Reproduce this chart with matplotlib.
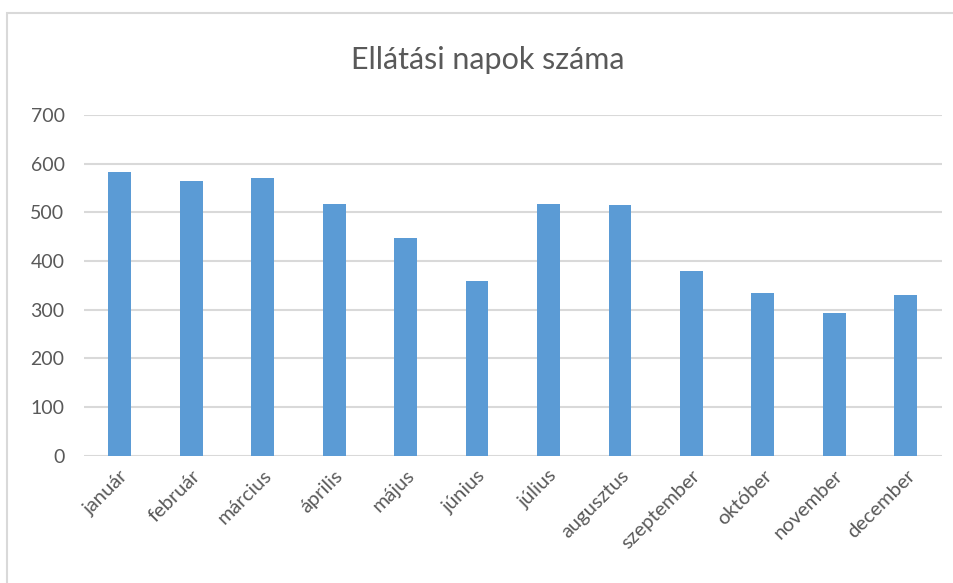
import matplotlib.pyplot as plt
from matplotlib.patches import Rectangle

months = ['január', 'február', 'március', 'április', 'május', 'június',
          'július', 'augusztus', 'szeptember', 'október', 'november', 'december']
days = [583, 565, 570, 518, 448, 359, 517, 515, 379, 335, 294, 331]
yticks = [0, 100, 200, 300, 400, 500, 600, 700]

plt.rcParams['font.family'] = ['Lato', 'DejaVu Sans']

fig = plt.figure(figsize=(9.54, 5.83), dpi=100)
ax = fig.add_axes([0.088, 0.218, 0.899, 0.585])

x = range(len(months))
ax.bar(x, days, width=0.32, color='#5B9BD5', zorder=3)

ax.set_xlim(-0.5, len(months) - 0.5)
ax.set_ylim(0, 700)
ax.set_yticks(yticks)
ax.set_yticklabels([str(v) for v in yticks], fontsize=14, color='#595959')
ax.set_xticks(list(x))
ax.set_xticklabels(months, rotation=45, ha='right', rotation_mode='anchor',
                   fontsize=14.5, color='#595959')
ax.tick_params(length=0, pad=8)
ax.tick_params(axis='y', pad=14)
ax.yaxis.grid(True, color='#d9d9d9', linewidth=1.5, zorder=0)
for s in ax.spines.values():
    s.set_visible(False)

fig.text(0.511, 0.897, 'Ellátási napok száma', ha='center', va='center',
         fontsize=22, color='#595959')

# chart frame: only top and left edges fall inside the image
fig.patches.append(Rectangle((0.0073, -0.05), 1.1, 1.027, transform=fig.transFigure,
                             fill=False, edgecolor='#d9d9d9', linewidth=1.5))

fig.savefig('out.png', dpi=100)
